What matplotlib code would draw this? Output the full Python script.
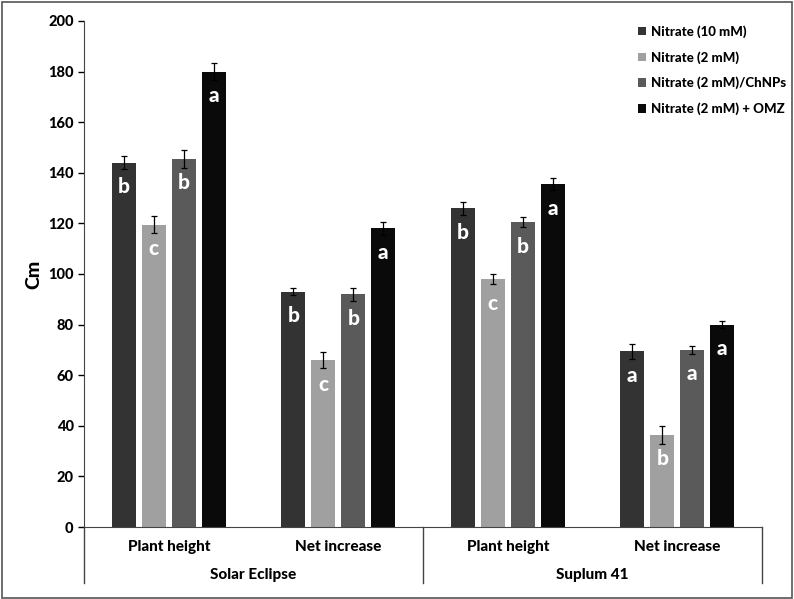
import matplotlib.pyplot as plt
from matplotlib.patches import Rectangle
import numpy as np

plt.rcParams['font.family'] = ['Lato', 'DejaVu Sans']

# Data
cultivars = ['Solar Eclipse', 'Suplum 41']
traits = ['Plant height', 'Net increase', 'Plant height', 'Net increase']
series = ['Nitrate (10 mM)', 'Nitrate (2 mM)', 'Nitrate (2 mM)/ChNPs', 'Nitrate (2 mM) + OMZ']
colors = ['#333333', '#a0a0a0', '#5a5a5a', '#0a0a0a']

nitrate_10 = [144, 93, 126, 69.5]
nitrate_2 = [119.5, 66, 98, 36.5]
nitrate_2_chnps = [145.5, 92, 120.5, 70]
nitrate_2_omz = [180, 118, 135.5, 80]

err_10 = [2.5, 1.5, 2.5, 3]
err_2 = [3.5, 3, 2, 3.5]
err_chnps = [3.5, 2.5, 2, 1.5]
err_omz = [3.5, 2.5, 2.5, 1.5]

letters_10 = ['b', 'b', 'b', 'a']
letters_2 = ['c', 'c', 'c', 'b']
letters_chnps = ['b', 'b', 'b', 'a']
letters_omz = ['a', 'a', 'a', 'a']

values = [nitrate_10, nitrate_2, nitrate_2_chnps, nitrate_2_omz]
errors = [err_10, err_2, err_chnps, err_omz]
letters = [letters_10, letters_2, letters_chnps, letters_omz]

fig = plt.figure(figsize=(7.94, 5.99), dpi=100)
ax = fig.add_axes([0.1058, 0.1202, 0.8539, 0.8448])

x = np.arange(len(traits))
slot = 0.177
width = 0.142
for i in range(4):
    pos = x + (i - 1.5) * slot
    ax.bar(pos, values[i], width, color=colors[i], label=series[i],
           yerr=errors[i], error_kw=dict(ecolor='black', elinewidth=0.9, capsize=2.5, capthick=0.9))
    for p, v, l in zip(pos, values[i], letters[i]):
        ax.text(p, v - 9.5, l, ha='center', va='center', color='white',
                fontsize=15, fontweight='black')

ax.set_xlim(-0.5, 3.5)
ax.set_ylim(0, 200)
ax.set_yticks(np.arange(0, 201, 20))
ax.tick_params(axis='y', labelsize=10.5, length=4, width=1, direction='out')
for lab in ax.get_yticklabels():
    lab.set_fontweight('black')
ax.set_xticks([])
ax.spines['top'].set_visible(False)
ax.spines['right'].set_visible(False)
ax.spines['left'].set_color('#444444')
ax.spines['bottom'].set_color('#444444')
ax.set_ylabel('Cm', fontsize=14, fontweight='black', labelpad=4)

# two-level category axis
trans = ax.get_xaxis_transform()
for xv in [-0.5, 1.5, 3.5]:
    ax.plot([xv, xv], [0, -0.111], transform=trans, color='#444444', lw=1, clip_on=False)
for xi, t in zip(x, traits):
    ax.text(xi, -0.04, t, transform=trans, ha='center', va='center',
            fontsize=11, fontweight='black')
for xi, c in zip([0.5, 2.5], cultivars):
    ax.text(xi, -0.095, c, transform=trans, ha='center', va='center',
            fontsize=11, fontweight='black')

leg = fig.legend(*ax.get_legend_handles_labels(), loc='upper left',
                 bbox_to_anchor=(0.797, 0.967), frameon=False,
                 prop={'size': 9.5, 'weight': 'black'}, handlelength=0.6, handleheight=0.6,
                 handletextpad=0.35, labelspacing=1.0, borderaxespad=0)

# outer border
fig.patches.append(Rectangle((0.002, 0.002), 0.996, 0.995, transform=fig.transFigure,
                             fill=False, edgecolor='#555555', lw=1.2))

fig.savefig('out.png', dpi=100)
